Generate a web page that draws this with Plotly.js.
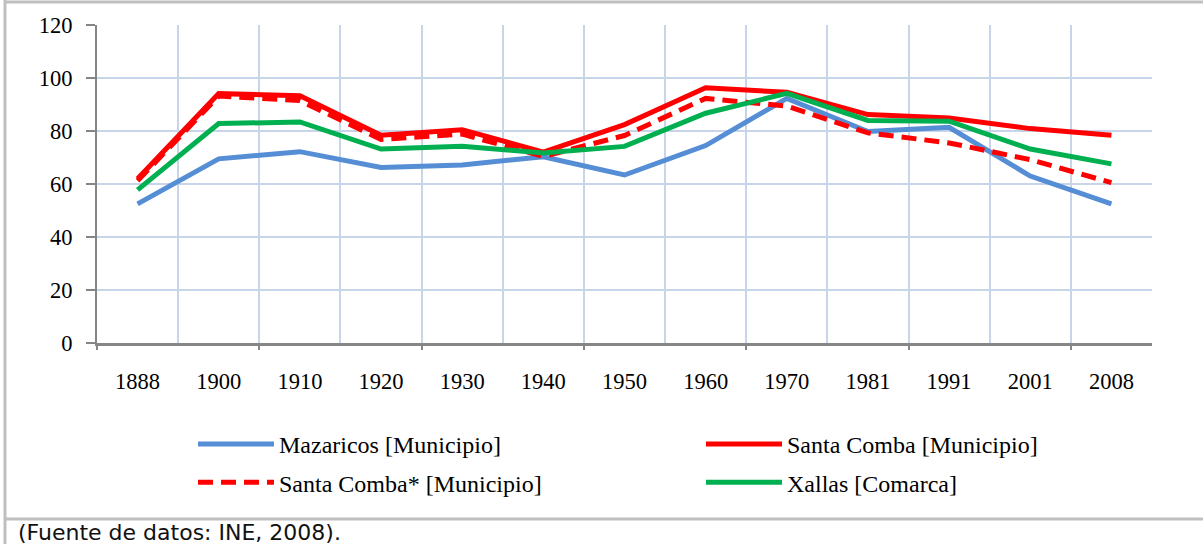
<!DOCTYPE html>
<html>
<head>
<meta charset="utf-8">
<script src="https://cdn.plot.ly/plotly-3.0.1.min.js"></script>
<style>html,body{margin:0;padding:0;background:#fff;}#chart{width:1203px;height:544px;}</style>
</head>
<body>
<div id="chart"></div>
<script>
// ---- data ----
const years = ["1888","1900","1910","1920","1930","1940","1950","1960","1970","1981","1991","2001","2008"];
const mazaricos = [52.5, 69.5, 72.2, 66.2, 67.2, 70.3, 63.4, 74.5, 92.3, 79.8, 81.4, 63.0, 52.5];
const santaComba = [62.0, 94.1, 93.3, 78.4, 80.5, 72.0, 82.4, 96.3, 94.6, 86.2, 84.9, 80.9, 78.4];
const santaCombaStar = [61.2, 93.2, 91.5, 76.8, 78.8, 70.4, 78.3, 92.3, 89.4, 79.3, 75.5, 69.2, 60.5];
const xallas = [57.8, 82.8, 83.4, 73.2, 74.2, 71.7, 74.2, 86.7, 94.2, 84.0, 83.7, 73.2, 67.6];
const seriesNames = ["Mazaricos [Municipio]", "Santa Comba [Municipio]", "Santa Comba* [Municipio]", "Xallas [Comarca]"];
const yTicks = [0, 20, 40, 60, 80, 100, 120];
const footer = "(Fuente de datos: INE, 2008).";

// ---- layout helpers ----
const W = 1203, H = 544;
const M = {l: 97, r: 51, t: 25, b: 201};
const PW = W - M.l - M.r, PH = H - M.t - M.b;
const px = x => (x - M.l) / PW;
const py = y => (H - M.b - y) / PH;

const xi = years.map((_, i) => i);
const serif = "Liberation Serif";
const grid = "#c7d4ea";
const axisGray = "#868686";

const traces = [
  {x: xi, y: mazaricos, name: seriesNames[0], mode: "lines", line: {color: "#558ed5", width: 5}, legend: "legend", legendgroup: "a"},
  {x: xi, y: santaComba, name: seriesNames[1], mode: "lines", line: {color: "#ff0000", width: 5}, legend: "legend2", legendgroup: "c"},
  {x: xi, y: santaCombaStar, name: seriesNames[2], mode: "lines", line: {color: "#ff0000", width: 5, dash: "15px,8px"}, legend: "legend", legendgroup: "b"},
  {x: xi, y: xallas, name: seriesNames[3], mode: "lines", line: {color: "#00b050", width: 5}, legend: "legend2", legendgroup: "d"}
];

const boundaries = [];
for (let i = 0; i <= years.length; i++) boundaries.push(i - 0.5);
const tickBounds = boundaries.filter((_, i) => i % 2 === 0 && i < years.length);

const legendCommon = {
  orientation: "v", bgcolor: "rgba(0,0,0,0)", borderwidth: 0,
  font: {family: serif, size: 24, color: "#000"},
  itemwidth: 76, tracegroupgap: 4, xanchor: "left", yanchor: "top",
  itemclick: false, itemdoubleclick: false
};

const layout = {
  width: W, height: H,
  margin: M,
  paper_bgcolor: "#fff", plot_bgcolor: "#fff",
  showlegend: true,
  font: {family: serif, size: 22.5, color: "#000"},
  xaxis: {
    range: [-0.5, years.length - 0.5], tickmode: "array", tickvals: xi, ticktext: years,
    ticks: "", showgrid: false, zeroline: false,
    showline: true, linecolor: axisGray, linewidth: 3,
    ticklabelstandoff: 16,
    tickfont: {family: serif, size: 22.5, color: "#000"},
    minor: {tickmode: "array", tickvals: boundaries, showgrid: true, gridcolor: grid, gridwidth: 2, ticks: ""},
    fixedrange: true
  },
  xaxis2: {
    overlaying: "x", anchor: "y", side: "bottom",
    range: [-0.5, years.length - 0.5], tickmode: "array", tickvals: tickBounds,
    ticks: "outside", ticklen: 6, tickwidth: 2, tickcolor: axisGray,
    showticklabels: false, showgrid: false, zeroline: false, showline: false, fixedrange: true
  },
  yaxis: {
    range: [0, 120], tickmode: "array", tickvals: yTicks,
    ticks: "outside", ticklen: 9, tickwidth: 2, tickcolor: axisGray,
    showline: true, linecolor: axisGray, linewidth: 2,
    showgrid: true, gridcolor: grid, gridwidth: 2, zeroline: false,
    ticklabelstandoff: 9,
    tickfont: {family: serif, size: 22.5, color: "#000"},
    fixedrange: true
  },
  legend: Object.assign({}, legendCommon, {x: px(193), y: py(422)}),
  legend2: Object.assign({}, legendCommon, {x: px(701), y: py(422)}),
  shapes: [
    {type: "line", xref: "paper", yref: "paper", x0: px(5), x1: px(5), y0: py(0), y1: py(544), line: {color: "#bfbfbf", width: 3}},
    {type: "line", xref: "paper", yref: "paper", x0: px(5), x1: px(1203), y0: py(2), y1: py(2), line: {color: "#bfbfbf", width: 3}},
    {type: "line", xref: "paper", yref: "paper", x0: px(5), x1: px(1203), y0: py(519), y1: py(519), line: {color: "#bfbfbf", width: 3}}
  ],
  annotations: [
    {text: footer, xref: "paper", yref: "paper", x: px(16), y: py(532), xanchor: "left", yanchor: "middle",
     showarrow: false, font: {family: "DejaVu Sans", size: 22, color: "#111"}}
  ]
};

// empty helper trace so the tick-only overlay axis is drawn
traces.push({x: [], y: [], xaxis: "x2", yaxis: "y", showlegend: false, hoverinfo: "skip", mode: "lines"});

Plotly.newPlot("chart", traces, layout, {displayModeBar: false, staticPlot: true});
</script>
</body>
</html>
